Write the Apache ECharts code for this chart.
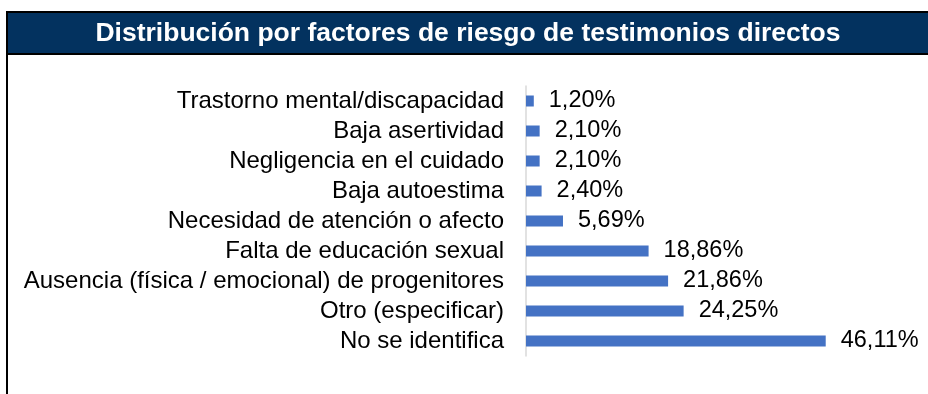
<!DOCTYPE html>
<html>
<head>
<meta charset="utf-8">
<title>Distribución por factores de riesgo de testimonios directos</title>
<script src="https://cdn.jsdelivr.net/npm/echarts@6/dist/echarts.min.js"></script>
<style>
  html, body { margin: 0; padding: 0; background: #ffffff; }
  #chart { width: 928px; height: 394px; }
</style>
</head>
<body>
<div id="chart"></div>
<script>
// Risk factors, listed top to bottom
const categories = [
  'Trastorno mental/discapacidad',
  'Baja asertividad',
  'Negligencia en el cuidado',
  'Baja autoestima',
  'Necesidad de atención o afecto',
  'Falta de educación sexual',
  'Ausencia (física / emocional) de progenitores',
  'Otro (especificar)',
  'No se identifica'
];
// Share of direct testimonies, in percent
const values = [1.20, 2.10, 2.10, 2.40, 5.69, 18.86, 21.86, 24.25, 46.11];

const titleText = 'Distribución por factores de riesgo de testimonios directos';
const FONT = '"Liberation Sans", Arial, sans-serif';

const fmtPct = v => v.toFixed(2).replace('.', ',') + '%';

const chart = echarts.init(document.getElementById('chart'), null, { renderer: 'canvas' });

chart.setOption({
  animation: false,
  backgroundColor: '#ffffff',
  graphic: [
    // frame: top rule, title band and its lower rule, left rule
    { type: 'rect', z: 0, shape: { x: 6, y: 11, width: 922, height: 44 }, style: { fill: '#000000' } },
    { type: 'rect', z: 1, shape: { x: 8, y: 13, width: 920, height: 40 }, style: { fill: '#03325f' } },
    { type: 'rect', z: 0, shape: { x: 6, y: 11, width: 2, height: 383 }, style: { fill: '#000000' } },
    {
      type: 'text', z: 2, x: 468, y: 34,
      style: {
        text: titleText,
        fill: '#ffffff',
        font: 'bold 26.5px ' + FONT,
        align: 'center',
        verticalAlign: 'middle'
      }
    }
  ],
  grid: { left: 526, right: 77, top: 86, bottom: 38, containLabel: false },
  xAxis: {
    type: 'value',
    min: 0,
    max: 50,
    show: false
  },
  yAxis: {
    type: 'category',
    data: categories,
    inverse: true,
    axisLine: { show: true, lineStyle: { color: '#d9d9d9', width: 1.5 } },
    axisTick: { show: false },
    axisLabel: {
      interval: 0,
      hideOverlap: false,
      color: '#000000',
      fontFamily: FONT,
      fontSize: 24,
      margin: 22
    },
    splitLine: { show: false }
  },
  series: [{
    type: 'bar',
    data: values,
    barWidth: 11,
    itemStyle: { color: '#4472c4' },
    label: {
      show: true,
      position: 'right',
      distance: 15,
      color: '#000000',
      fontFamily: FONT,
      fontSize: 23.5,
      formatter: p => fmtPct(p.value)
    }
  }]
});
</script>
</body>
</html>
